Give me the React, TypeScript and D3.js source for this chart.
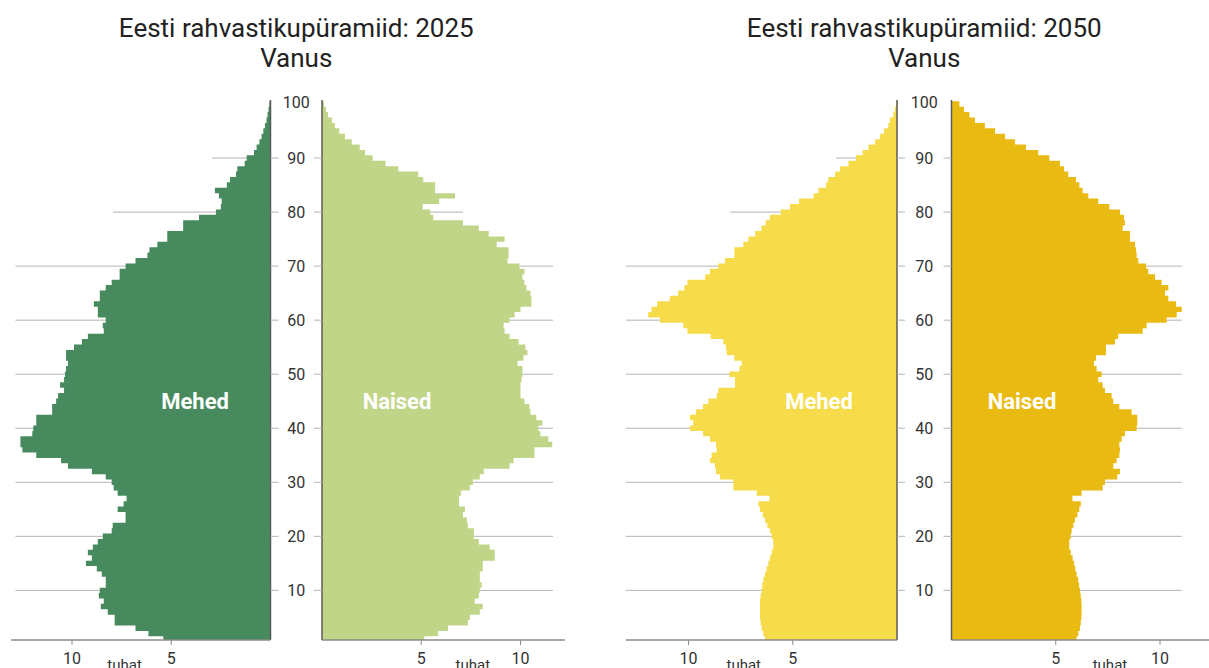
import React, { useEffect, useRef } from 'react';
import * as d3 from 'd3';

// ages 1..100, population in thousands
const ages = d3.range(1, 101);

const male2025 = [
  5.4, 6.15, 6.8, 7.85, 7.85, 8.2, 8.55, 8.4, 8.65, 8.6,
  8.3, 8.3, 8.5, 8.75, 9.3, 9.0, 9.2, 8.95, 8.7, 8.45,
  8.0, 7.95, 7.3, 7.3, 7.7, 7.4, 7.25, 7.7, 7.9, 8.0,
  8.3, 9.0, 10.2, 10.55, 11.8, 12.5, 12.6, 12.6, 12.0, 11.95,
  11.8, 11.8, 11.0, 11.0, 10.8, 10.7, 10.4, 10.6, 10.4, 10.35,
  10.3, 10.2, 10.3, 10.3, 9.9, 9.5, 9.2, 8.4, 8.45, 8.3,
  8.7, 8.7, 8.9, 8.6, 8.6, 8.3, 8.0, 7.6, 7.6, 7.3,
  6.8, 6.2, 6.1, 5.7, 5.2, 5.2, 4.4, 4.4, 3.6, 2.75,
  2.5, 2.46, 2.6, 2.8, 2.2, 2.04, 1.74, 1.67, 1.3, 1.2,
  0.83, 0.7, 0.56, 0.45, 0.36, 0.28, 0.2, 0.15, 0.1, 0.06,
];

const female2025 = [
  5.15, 5.85, 6.35, 7.35, 7.45, 7.95, 8.1, 7.7, 7.9, 7.95,
  8.05, 7.95, 7.95, 8.1, 8.1, 8.7, 8.7, 8.45, 7.9, 7.65,
  7.65, 7.35, 7.3, 7.1, 7.2, 6.9, 6.9, 7.0, 7.45, 7.6,
  7.95, 8.15, 9.45, 9.65, 10.7, 10.7, 11.6, 11.4, 11.0, 10.9,
  11.1, 10.8, 10.5, 10.45, 10.2, 10.0, 10.0, 10.0, 10.05, 10.1,
  10.1, 9.85, 10.15, 10.35, 10.25, 9.9, 9.45, 9.2, 9.15, 9.45,
  9.7, 10.0, 10.55, 10.55, 10.5, 10.3, 10.2, 10.1, 10.2, 9.95,
  9.35, 9.4, 9.4, 8.8, 9.2, 8.4, 7.9, 7.1, 5.6, 5.45,
  5.07, 5.9, 6.7, 5.7, 5.7, 5.1, 4.85, 3.85, 3.2, 2.55,
  2.17, 1.9, 1.5, 1.16, 0.87, 0.65, 0.5, 0.3, 0.2, 0.1,
];

const male2050 = [
  6.33, 6.41, 6.49, 6.54, 6.57, 6.57, 6.57, 6.57, 6.54, 6.49,
  6.46, 6.41, 6.33, 6.25, 6.17, 6.09, 6.01, 5.93, 5.93, 6.01,
  6.09, 6.22, 6.33, 6.44, 6.57, 6.65, 6.12, 6.73, 7.85, 7.85,
  8.49, 8.68, 8.73, 8.97, 8.89, 8.65, 8.68, 8.97, 9.3, 9.93,
  9.77, 9.93, 9.64, 9.3, 9.05, 8.65, 8.57, 7.77, 7.77, 8.04,
  7.56, 7.45, 7.8, 8.17, 8.2, 8.33, 8.94, 10.05, 10.25, 11.37,
  11.93, 11.77, 11.5, 10.9, 10.5, 10.2, 10.05, 9.2, 8.97, 8.57,
  8.25, 7.8, 7.8, 7.37, 7.13, 6.8, 6.5, 6.3, 6.1, 5.58,
  5.13, 4.7, 4.0, 3.77, 3.4, 3.3, 2.97, 2.73, 2.33, 1.97,
  1.65, 1.37, 1.05, 0.82, 0.62, 0.42, 0.34, 0.18, 0.1, 0.05,
];

const female2050 = [
  6.0, 6.08, 6.16, 6.2, 6.23, 6.24, 6.24, 6.23, 6.2, 6.16,
  6.12, 6.07, 6.0, 5.94, 5.88, 5.81, 5.72, 5.65, 5.65, 5.72,
  5.76, 5.84, 5.92, 6.04, 6.13, 6.2, 5.8, 6.24, 7.25, 7.36,
  7.95, 8.08, 7.76, 7.92, 8.05, 8.08, 8.05, 8.16, 8.32, 8.88,
  8.91, 8.91, 8.64, 8.05, 7.76, 7.68, 7.36, 7.25, 7.04, 7.2,
  6.96, 6.83, 6.93, 7.41, 7.41, 7.84, 8.0, 9.17, 9.36, 10.32,
  10.8, 11.04, 10.77, 10.4, 10.24, 10.4, 10.08, 9.76, 9.44, 9.33,
  8.96, 8.88, 8.85, 8.8, 8.56, 8.56, 8.21, 8.32, 8.27, 8.08,
  7.57, 7.04, 6.56, 6.29, 6.13, 5.97, 5.6, 5.4, 5.2, 4.69,
  4.16, 3.57, 3.05, 2.57, 2.09, 1.6, 1.13, 0.86, 0.6, 0.38,
];

const ageTicks = [10, 20, 30, 40, 50, 60, 70, 80, 90, 100];
const xTicks = [5, 10];

// how far each grid line reaches (thousands), for ages 10..90
const gridAges = [10, 20, 30, 40, 50, 60, 70, 80, 90];
const gridMale2025 = [12.85, 12.85, 12.85, 12.85, 12.85, 12.85, 12.85, 7.93, 2.95];
const gridFemale2025 = [11.64, 11.64, 11.64, 11.64, 11.64, 11.64, 11.64, 7.1, 0];
const gridMale2050 = [13, 13, 13, 13, 13, 13, 13, 8.0, 2.93];
const gridFemale2050 = [11.05, 11.05, 11.05, 11.05, 11.05, 11.05, 11.05, 0, 0];

const panels = [
  {
    title: 'Eesti rahvastikupüramiid: 2025',
    male: male2025, female: female2025,
    gridMale: gridMale2025, gridFemale: gridFemale2025,
    maleColor: '#468a5e', femaleColor: '#c1d588',
    maleZero: 270.5, femaleZero: 322, unit: 19.85,
    maleMax: 13.07, femaleMax: 12.24,
    maleLabel: 3.8, femaleLabel: 3.78,
  },
  {
    title: 'Eesti rahvastikupüramiid: 2050',
    male: male2050, female: female2050,
    gridMale: gridMale2050, gridFemale: gridFemale2050,
    maleColor: '#f6dc4a', femaleColor: '#e9ba12',
    maleZero: 897, femaleZero: 951.5, unit: 20.85,
    maleMax: 13.0, femaleMax: 12.4,
    maleLabel: 3.74, femaleLabel: 3.38,
  },
];

const WIDTH = 1209;
const HEIGHT = 668;
const PLOT_TOP = 100;
const PLOT_BOTTOM = 640;

const App: React.FC = () => {
  const ref = useRef<SVGSVGElement | null>(null);

  useEffect(() => {
    if (!ref.current) return;
    const svg = d3.select(ref.current);
    svg.selectAll('*').remove();

    const y = d3.scaleLinear().domain([0, 100]).range([644.4, 104]);

    svg.append('defs').append('clipPath')
      .attr('id', 'plot-clip')
      .append('rect')
      .attr('x', 0).attr('y', PLOT_TOP)
      .attr('width', WIDTH).attr('height', PLOT_BOTTOM - PLOT_TOP);

    // one stepped outline per half, each age a band centred on its tick
    const stepPath = (values: number[], x: d3.ScaleLinear<number, number>) => {
      const path = d3.path();
      const last = ages[ages.length - 1];
      path.moveTo(x(0), y(last + 0.5));
      for (let i = ages.length - 1; i >= 0; i--) {
        const a = ages[i];
        path.lineTo(x(values[i]), y(a + 0.5));
        path.lineTo(x(values[i]), y(a - 0.5));
      }
      path.lineTo(x(0), y(ages[0] - 0.5));
      path.closePath();
      return path.toString();
    };

    panels.forEach((p) => {
      const g = svg.append('g');
      const xm = d3.scaleLinear().domain([0, p.maleMax]).range([p.maleZero, p.maleZero - p.maleMax * p.unit]);
      const xf = d3.scaleLinear().domain([0, p.femaleMax]).range([p.femaleZero, p.femaleZero + p.femaleMax * p.unit]);
      const mid = (p.maleZero + p.femaleZero) / 2;

      // grid lines
      gridAges.forEach((a, i) => {
        if (p.gridMale[i] > 0) {
          g.append('line')
            .attr('x1', xm(p.gridMale[i])).attr('x2', p.maleZero)
            .attr('y1', y(a)).attr('y2', y(a))
            .attr('stroke', '#b4b4b4').attr('stroke-width', 1);
        }
        if (p.gridFemale[i] > 0) {
          g.append('line')
            .attr('x1', p.femaleZero).attr('x2', xf(p.gridFemale[i]))
            .attr('y1', y(a)).attr('y2', y(a))
            .attr('stroke', '#b4b4b4').attr('stroke-width', 1);
        }
      });

      const bars = g.append('g').attr('clip-path', 'url(#plot-clip)');
      bars.append('path').attr('d', stepPath(p.male, xm)).attr('fill', p.maleColor);
      bars.append('path').attr('d', stepPath(p.female, xf)).attr('fill', p.femaleColor);

      // vertical axes
      [p.maleZero, p.femaleZero].forEach((x) => {
        g.append('line')
          .attr('x1', x).attr('x2', x)
          .attr('y1', PLOT_TOP).attr('y2', PLOT_BOTTOM)
          .attr('stroke', '#5a5a5a').attr('stroke-width', 1.5);
      });

      // bottom axes
      g.append('line')
        .attr('x1', xm(p.maleMax)).attr('x2', p.maleZero)
        .attr('y1', PLOT_BOTTOM).attr('y2', PLOT_BOTTOM)
        .attr('stroke', '#8a8a8a').attr('stroke-width', 1.5);
      g.append('line')
        .attr('x1', p.femaleZero).attr('x2', xf(p.femaleMax))
        .attr('y1', PLOT_BOTTOM).attr('y2', PLOT_BOTTOM)
        .attr('stroke', '#8a8a8a').attr('stroke-width', 1.5);

      // age ticks and labels
      ageTicks.forEach((a) => {
        if (a < 100) {
          g.append('line')
            .attr('x1', p.maleZero).attr('x2', p.maleZero + 8)
            .attr('y1', y(a)).attr('y2', y(a))
            .attr('stroke', '#b4b4b4').attr('stroke-width', 1);
          g.append('line')
            .attr('x1', p.femaleZero - 8).attr('x2', p.femaleZero)
            .attr('y1', y(a)).attr('y2', y(a))
            .attr('stroke', '#b4b4b4').attr('stroke-width', 1);
        }
        g.append('text')
          .attr('x', mid)
          .attr('y', a === 100 ? y(a) - 2 : y(a))
          .attr('dy', '0.36em')
          .attr('text-anchor', 'middle')
          .attr('font-size', 16)
          .attr('fill', '#333')
          .text(a);
      });

      // value ticks
      const sides: [d3.ScaleLinear<number, number>, number][] = [[xm, 7.35], [xf, 7.6]];
      sides.forEach(([sc, unitAt]) => {
        xTicks.forEach((t) => {
          g.append('line')
            .attr('x1', sc(t)).attr('x2', sc(t))
            .attr('y1', PLOT_BOTTOM).attr('y2', PLOT_BOTTOM + 5)
            .attr('stroke', '#8a8a8a').attr('stroke-width', 1);
          g.append('text')
            .attr('x', sc(t)).attr('y', 664)
            .attr('text-anchor', 'middle')
            .attr('font-size', 16)
            .attr('fill', '#333')
            .text(t);
        });
        g.append('text')
          .attr('x', sc(unitAt)).attr('y', 670)
          .attr('text-anchor', 'middle')
          .attr('font-size', 15)
          .attr('fill', '#333')
          .text('tuhat');
      });

      // sex labels
      g.append('text')
        .attr('x', xm(p.maleLabel)).attr('y', y(45.1))
        .attr('dy', '0.36em')
        .attr('text-anchor', 'middle')
        .attr('font-size', 22).attr('font-weight', 'bold')
        .attr('fill', '#fff')
        .text('Mehed');
      g.append('text')
        .attr('x', xf(p.femaleLabel)).attr('y', y(45.1))
        .attr('dy', '0.36em')
        .attr('text-anchor', 'middle')
        .attr('font-size', 22).attr('font-weight', 'bold')
        .attr('fill', '#fff')
        .text('Naised');

      // title
      g.append('text')
        .attr('x', mid).attr('y', 37)
        .attr('text-anchor', 'middle')
        .attr('font-size', 26)
        .attr('fill', '#222')
        .text(p.title);
      g.append('text')
        .attr('x', mid).attr('y', 67)
        .attr('text-anchor', 'middle')
        .attr('font-size', 26)
        .attr('fill', '#222')
        .text('Vanus');
    });
  }, []);

  return (
    <svg
      ref={ref}
      width={WIDTH}
      height={HEIGHT}
      style={{ position: 'absolute', left: 0, top: 0, fontFamily: 'Roboto, sans-serif', background: '#fff' }}
    />
  );
};

export default App;
